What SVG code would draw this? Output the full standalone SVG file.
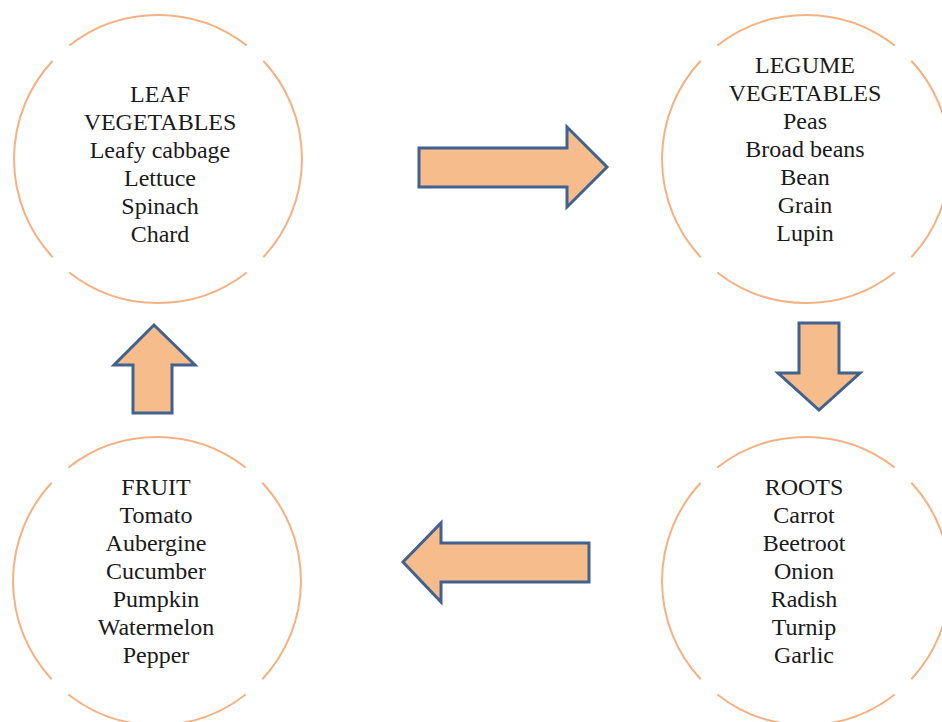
<svg xmlns="http://www.w3.org/2000/svg" xmlns:xlink="http://www.w3.org/1999/xlink" width="942" height="722" viewBox="0 0 942 722">
<style>
.ring{fill:none;stroke:#F4B183;stroke-width:2}
.lbl{font-family:"Liberation Serif","Times New Roman",serif;font-size:24px;fill:#1a1a1a;text-anchor:middle}
.arrow{fill:#F7BC8C;stroke:#41628E;stroke-width:3;stroke-linejoin:miter}
</style>
<defs>
<g id="ring">
<path class="ring" d="M 88.7 113.5 A 144 144 0 0 1 -88.7 113.5"/>
<path class="ring" d="M -105.3 98.2 A 144 144 0 0 1 -105.3 -98.2"/>
<path class="ring" d="M -88.7 -113.5 A 144 144 0 0 1 88.7 -113.5"/>
<path class="ring" d="M 105.3 -98.2 A 144 144 0 0 1 105.3 98.2"/>
</g>
</defs>
<rect width="942" height="722" fill="#ffffff"/>
<g id="leaf">
<use xlink:href="#ring" href="#ring" transform="translate(158,159)"/>
<text class="lbl" x="160" y="102">LEAF</text>
<text class="lbl" x="160" y="130">VEGETABLES</text>
<text class="lbl" x="160" y="158">Leafy cabbage</text>
<text class="lbl" x="160" y="186">Lettuce</text>
<text class="lbl" x="160" y="214">Spinach</text>
<text class="lbl" x="160" y="242">Chard</text>
</g>
<g id="legume">
<use xlink:href="#ring" href="#ring" transform="translate(806,159)"/>
<text class="lbl" x="805" y="73">LEGUME</text>
<text class="lbl" x="805" y="101">VEGETABLES</text>
<text class="lbl" x="805" y="129">Peas</text>
<text class="lbl" x="805" y="157">Broad beans</text>
<text class="lbl" x="805" y="185">Bean</text>
<text class="lbl" x="805" y="213">Grain</text>
<text class="lbl" x="805" y="241">Lupin</text>
</g>
<g id="fruit">
<use xlink:href="#ring" href="#ring" transform="translate(157,581)"/>
<text class="lbl" x="156" y="495">FRUIT</text>
<text class="lbl" x="156" y="523">Tomato</text>
<text class="lbl" x="156" y="551">Aubergine</text>
<text class="lbl" x="156" y="579">Cucumber</text>
<text class="lbl" x="156" y="607">Pumpkin</text>
<text class="lbl" x="156" y="635">Watermelon</text>
<text class="lbl" x="156" y="663">Pepper</text>
</g>
<g id="roots">
<use xlink:href="#ring" href="#ring" transform="translate(806,581)"/>
<text class="lbl" x="804" y="495">ROOTS</text>
<text class="lbl" x="804" y="523">Carrot</text>
<text class="lbl" x="804" y="551">Beetroot</text>
<text class="lbl" x="804" y="579">Onion</text>
<text class="lbl" x="804" y="607">Radish</text>
<text class="lbl" x="804" y="635">Turnip</text>
<text class="lbl" x="804" y="663">Garlic</text>
</g>
<g id="connectors">
<polygon class="arrow" points="419,148 567,148 567,127 607,167 567,207 567,187 419,187"/>
<polygon class="arrow" points="799,323 839,323 839,373 860,373 819,410 778,373 799,373"/>
<polygon class="arrow" points="589,543 441,543 441,523 403,562 441,602 441,582 589,582"/>
<polygon class="arrow" points="133,413 133,365 114,365 154,325 195,365 172,365 172,413"/>
</g>
</svg>
